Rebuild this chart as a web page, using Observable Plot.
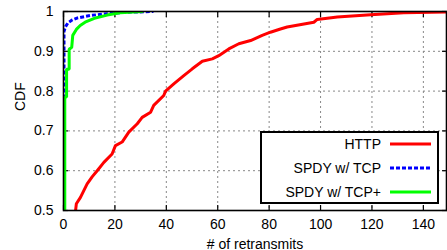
<!DOCTYPE html>
<html><head><meta charset="utf-8">
<script src="https://cdn.jsdelivr.net/npm/d3@7"></script>
<script src="https://cdn.jsdelivr.net/npm/@observablehq/plot@0.6"></script>
<style>body{margin:0;background:#fff;} svg{display:block;}</style>
</head><body><div id="chart"></div>
<script>
const seriesNames = ["HTTP", "SPDY w/ TCP", "SPDY w/ TCP+"];
const seriesColors = ["#ff0000", "#0000ff", "#00ff00"];
const seriesDash = [null, "4 2", null];

const httpX = [4.7, 5, 6.6, 7.9, 9.2, 11.2, 13.1, 15.7, 18.9, 20.2, 22.8, 25.4, 28.7, 30.6, 33.9, 35.1, 39, 39.7, 42.9, 46.8, 50.1, 54, 57.9, 60.4, 64.3, 68.2, 72.8, 77.3, 80.5, 84.4, 87, 97.4, 98.7, 106.5, 119.5, 132.4, 149];
const httpY = [0.5, 0.517, 0.533, 0.55, 0.567, 0.585, 0.6, 0.621, 0.642, 0.663, 0.672, 0.697, 0.718, 0.734, 0.747, 0.764, 0.789, 0.8, 0.818, 0.839, 0.856, 0.875, 0.881, 0.889, 0.906, 0.919, 0.927, 0.94, 0.948, 0.956, 0.961, 0.973, 0.98, 0.986, 0.992, 0.997, 0.999];

const tcpX = [0.2, 0.2, 0.8, 1.8, 3.5, 5.5, 10.5, 16, 24, 35];
const tcpY = [0.45, 0.95, 0.962, 0.972, 0.979, 0.984, 0.99, 0.994, 0.998, 1];

const tcpPlusX = [0.5, 0.5, 1.2, 1.2, 2.2, 2.2, 3.2, 3.6, 5, 6.5, 8.4, 12, 17, 22, 31];
const tcpPlusY = [0.45, 0.785, 0.785, 0.855, 0.855, 0.905, 0.91, 0.94, 0.955, 0.965, 0.973, 0.983, 0.991, 0.997, 1];

const xTicks = [0, 20, 40, 60, 80, 100, 120, 140];
const yTicks = [0.5, 0.6, 0.7, 0.8, 0.9, 1];
const xLabel = "# of retransmits";
const yLabel = "CDF";

const rows = [];
[[httpX, httpY], [tcpX, tcpY], [tcpPlusX, tcpPlusY]].forEach(([xs, ys], i) =>
  xs.forEach((x, j) => rows.push({series: seriesNames[i], x, y: ys[j]})));

const font = "'Liberation Sans', Arial, Helvetica, sans-serif";
const grid = {stroke: "#888", strokeOpacity: 1, strokeWidth: 1, strokeDasharray: "2,3"};

const plot = Plot.plot({
  width: 447, height: 250,
  marginLeft: 63, marginRight: 1, marginTop: 11, marginBottom: 40,
  style: {fontFamily: font, fontSize: "14px", background: "white", color: "black", overflow: "visible"},
  x: {domain: [0, 149]},
  y: {domain: [0.5, 1]},
  color: {domain: seriesNames, range: seriesColors},
  marks: [
    Plot.gridX(xTicks.slice(1), grid),
    Plot.gridY(yTicks.slice(1, -1), grid),
    Plot.axisX(xTicks, {anchor: "bottom", tickSize: 0, tickPadding: 9, label: null, tickFormat: d => String(d), fontSize: 14}),
    Plot.axisY(yTicks, {anchor: "left", tickSize: 0, tickPadding: 10, label: null, tickFormat: d => String(d), fontSize: 14}),
    Plot.axisX(xTicks, {anchor: "bottom", tickSize: 5, dy: -5, tickFormat: () => "", label: null, strokeWidth: 1.2}),
    Plot.axisX(xTicks, {anchor: "top", tickSize: 5, dy: 5, tickFormat: () => "", label: null, strokeWidth: 1.2}),
    Plot.axisY(yTicks, {anchor: "left", tickSize: 5, dx: 5, tickFormat: () => "", label: null, strokeWidth: 1.2}),
    Plot.axisY(yTicks, {anchor: "right", tickSize: 5, dx: -5, tickFormat: () => "", label: null, strokeWidth: 1.2}),
    ...seriesNames.map((s, i) => Plot.line(rows, {
      filter: d => d.series === s, x: "x", y: "y", stroke: "series",
      strokeWidth: 3, clip: true, strokeLinejoin: "miter", strokeLinecap: "butt",
      ...(seriesDash[i] ? {strokeDasharray: seriesDash[i]} : {})
    })),
    Plot.frame({stroke: "black", strokeWidth: 1.6}),
    Plot.text([yLabel], {frameAnchor: "left", dx: -43, rotate: -90, fontSize: 14}),
    Plot.text([xLabel], {frameAnchor: "bottom", dy: 38, fontSize: 14})
  ]
});

const svg = d3.select(plot);

// legend
const lg = svg.append("g");
lg.append("rect").attr("x", 261).attr("y", 132).attr("width", 177).attr("height", 71)
  .attr("fill", "white").attr("stroke", "black").attr("stroke-width", 2);
seriesNames.forEach((s, i) => {
  const cy = 144 + i * 24;
  lg.append("text").attr("x", 381).attr("y", cy).attr("dy", "0.35em")
    .attr("text-anchor", "end").attr("font-family", font).attr("font-size", 14).attr("fill", "black").text(s);
  const ln = lg.append("line").attr("x1", 390).attr("x2", 431).attr("y1", cy).attr("y2", cy)
    .attr("stroke", seriesColors[i]).attr("stroke-width", 3);
  if (seriesDash[i]) ln.attr("stroke-dasharray", seriesDash[i]);
});
document.getElementById("chart").appendChild(plot);
</script>
</body></html>
